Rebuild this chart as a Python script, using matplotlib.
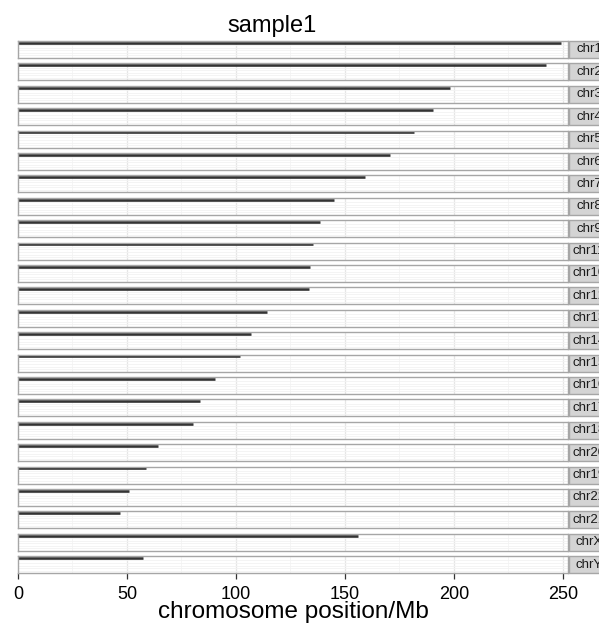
import matplotlib
matplotlib.use("Agg")
import matplotlib.pyplot as plt
from matplotlib.patches import Rectangle

plt.rcParams['font.family'] = ['Liberation Sans', 'DejaVu Sans']

# chromosome lengths (Mb), in panel order
chroms = ["chr1", "chr2", "chr3", "chr4", "chr5", "chr6", "chr7", "chr8",
          "chr9", "chr11", "chr10", "chr12", "chr13", "chr14", "chr15",
          "chr16", "chr17", "chr18", "chr20", "chr19", "chr22", "chr21",
          "chrX", "chrY"]
lengths = [249.0, 242.2, 198.3, 190.2, 181.5, 170.8, 159.3, 145.1,
           138.4, 135.1, 133.8, 133.3, 114.4, 107.0, 102.0,
           90.3, 83.3, 80.4, 64.4, 58.6, 50.8, 46.7,
           156.0, 57.2]
xticks = [0, 50, 100, 150, 200, 250]
title = "sample1"
xlabel = "chromosome position/Mb"

W, H = 599, 624
fig = plt.figure(figsize=(W / 100, H / 100), dpi=100)

left, right = 18, 568
top0, period, ph = 41, 22.4, 17
strip_x = 569

for i, (name, ln) in enumerate(zip(chroms, lengths)):
    top = top0 + i * period
    ax = fig.add_axes([left / W, 1 - (top + ph) / H, (right - left) / W, ph / H])
    ax.set_xlim(0, 252.3)
    ax.set_ylim(0, 1)
    ax.set_facecolor("white")
    # faint grid like ggplot
    for v in [25, 75, 125, 175, 225]:
        ax.axvline(v, color="#f4f4f4", lw=0.6, zorder=0)
    for v in [50, 100, 150, 200, 250]:
        ax.axvline(v, color="#e6e6e6", lw=0.9, zorder=0)
    for v in [0.15, 0.3, 0.45, 0.6, 0.75]:
        ax.axhline(v, color="#f2f2f2", lw=0.6, zorder=0)
    ax.plot([0, ln], [0.89, 0.89], color="#333333", lw=1.9, solid_capstyle="butt")
    for s in ax.spines.values():
        s.set_color("#a6a6a6")
        s.set_linewidth(1.0)
    ax.set_yticks([])
    if i < len(chroms) - 1:
        ax.set_xticks([])
    else:
        ax.set_xticks(xticks)
        ax.set_xticklabels([str(t) for t in xticks], fontsize=13)
        ax.tick_params(axis="x", length=4, width=0.9, color="#333333", pad=5)

    # strip on the right (runs off the figure edge, as in the original)
    fig.add_artist(Rectangle((strip_x / W, 1 - (top + ph) / H), 60 / W, ph / H,
                             transform=fig.transFigure, facecolor="#d4d4d4",
                             edgecolor="#a6a6a6", lw=1.0))
    fig.text(589 / W, 1 - (top + ph / 2) / H, name, fontsize=9.5,
             ha="center", va="center", color="#1a1a1a")

fig.text(272 / W, 1 - 32 / H, title, fontsize=17, ha="center", va="baseline")
fig.text(293 / W, 1 - 618 / H, xlabel, fontsize=17.5, ha="center", va="baseline")

fig.savefig("out.png", dpi=100)
